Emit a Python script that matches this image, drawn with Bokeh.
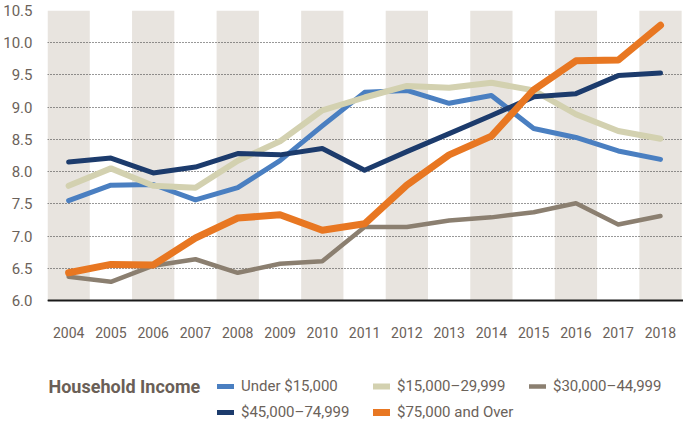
from bokeh.plotting import figure
from bokeh.models import FixedTicker, NumeralTickFormatter, Legend, LegendItem, Range1d, Label
from bokeh.embed import file_html
from bokeh.resources import INLINE

years = list(range(2004, 2019))
band_years = [2004, 2006, 2008, 2010, 2012, 2014, 2016, 2018]
y_ticks = [6.0, 6.5, 7.0, 7.5, 8.0, 8.5, 9.0, 9.5, 10.0, 10.5]
Y_MIN, Y_MAX = 6.0, 10.5

under_15k = [7.55, 7.79, 7.80, 7.56, 7.75, 8.17, 8.71, 9.23, 9.26, 9.06, 9.18, 8.67, 8.53, 8.32, 8.19]
inc_15_30 = [7.78, 8.05, 7.78, 7.75, 8.17, 8.47, 8.95, 9.15, 9.33, 9.30, 9.38, 9.26, 8.89, 8.63, 8.51]
inc_30_45 = [6.37, 6.29, 6.54, 6.64, 6.43, 6.57, 6.61, 7.14, 7.14, 7.24, 7.29, 7.37, 7.51, 7.18, 7.31]
inc_45_75 = [8.15, 8.21, 7.98, 8.07, 8.28, 8.26, 8.36, 8.02, 8.31, 8.59, 8.87, 9.16, 9.21, 9.49, 9.53]
inc_75_up = [6.43, 6.56, 6.55, 6.97, 7.28, 7.33, 7.09, 7.19, 7.79, 8.26, 8.55, 9.27, 9.72, 9.73, 10.27]

labels = ["Under $15,000", "$15,000\u201329,999", "$30,000\u201344,999",
          "$45,000\u201374,999", "$75,000 and Over"]
legend_title = "Household Income"

FONT = "Roboto"
TXT = "#6b625a"

W, H = 683, 422
TOP, LEFT = 10, 41
PLOT_PX = 290                      # pixels between 10.5 and 6.0
px_per_unit = PLOT_PX / (Y_MAX - Y_MIN)
frame_h = H - TOP
y_start = Y_MAX - frame_h / px_per_unit   # frame extends below the chart to hold the legend

p = figure(width=W, height=H, output_backend="svg", toolbar_location=None,
           x_range=Range1d(2003.5, 2018.544), y_range=Range1d(y_start, Y_MAX),
           min_border_left=LEFT, min_border_right=0, min_border_top=TOP, min_border_bottom=0)
p.outline_line_color = None
p.background_fill_color = "white"

bands = p.vbar(x=band_years, width=1, bottom=Y_MIN, top=Y_MAX, color="#e8e4df", line_color=None)
bands.level = "image"

p.xgrid.visible = False
p.ygrid.grid_line_color = "#333333"
p.ygrid.grid_line_dash = "1 2"
p.ygrid.grid_line_width = 1
p.ygrid.ticker = FixedTicker(ticks=y_ticks)

r_blue = p.line(years, under_15k, line_color="#4a7fc1", line_width=5, line_join="round", line_cap="round")
r_beige = p.line(years, inc_15_30, line_color="#d3d1b0", line_width=6, line_join="round", line_cap="round")
r_gray = p.line(years, inc_30_45, line_color="#8b7f70", line_width=4.5, line_join="round", line_cap="round")
r_navy = p.line(years, inc_45_75, line_color="#1c3b6c", line_width=5, line_join="round", line_cap="round")
r_orange = p.line(years, inc_75_up, line_color="#e87722", line_width=7, line_join="round", line_cap="round")

p.xaxis.fixed_location = Y_MIN
p.xaxis.ticker = FixedTicker(ticks=years)
p.xaxis.major_tick_line_color = None
p.xaxis.minor_tick_line_color = None
p.xaxis.axis_line_color = "#1a1a1a"
p.xaxis.axis_line_width = 2
p.xaxis.major_label_standoff = 20
p.xaxis.major_label_text_font = FONT
p.xaxis.major_label_text_font_size = "14px"
p.xaxis.major_label_text_color = TXT

p.yaxis.ticker = FixedTicker(ticks=y_ticks)
p.yaxis.formatter = NumeralTickFormatter(format="0.0")
p.yaxis.major_tick_line_color = None
p.yaxis.minor_tick_line_color = None
p.yaxis.axis_line_color = None
p.yaxis.major_label_standoff = 9
p.yaxis.major_label_text_font = FONT
p.yaxis.major_label_text_font_size = "15px"
p.yaxis.major_label_text_color = TXT

renderers = [r_blue, r_beige, r_gray, r_navy, r_orange]
legend = Legend(items=[LegendItem(label=l, renderers=[r]) for l, r in zip(labels, renderers)],
                location=(170, 0), orientation="horizontal", ncols=3,
                label_text_font=FONT, label_text_font_size="15px", label_text_color=TXT,
                label_height=20, glyph_height=20, glyph_width=17, label_standoff=7,
                label_width=126, spacing=6, padding=0, margin=0,
                border_line_alpha=0, background_fill_alpha=0)
p.add_layout(legend, "center")

title_y = Y_MAX - (386 - TOP) / px_per_unit
p.add_layout(Label(x=2003.5, y=title_y, x_offset=1, text=legend_title, text_font=FONT,
                   text_font_style="bold", text_font_size="18px", text_color="#6a5f57",
                   text_baseline="middle", text_align="left"))

open("out.html", "w").write(file_html(p, INLINE))
